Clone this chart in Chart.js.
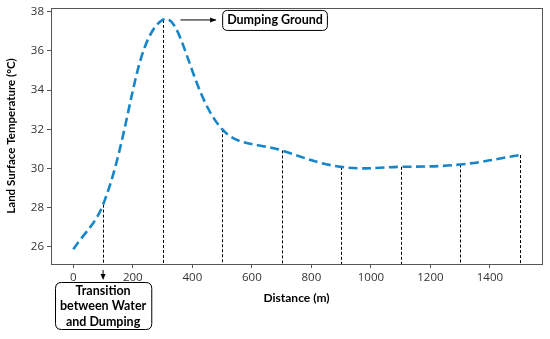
<!DOCTYPE html>
<html>
<head>
<meta charset="utf-8">
<script src="https://cdn.jsdelivr.net/npm/chart.js@4.4.1/dist/chart.umd.min.js"></script>
<style>
    html, body { margin: 0; padding: 0; background: #fff; }
    #wrap { width: 550px; height: 339px; }
</style>
</head>
<body>
<div id="wrap"><canvas id="lstChart" width="550" height="339"></canvas></div>
<script>
// distance along the transect (m) and land surface temperature (°C)
const distance = [0, 100, 300, 500, 700, 900, 1100, 1300, 1500];
const lst = [25.87, 28.15, 37.58, 32.0, 30.92, 30.08, 30.08, 30.2, 30.68];

// points that get a dotted drop line down to the x axis
const dropDistance = [100, 300, 500, 700, 900, 1100, 1300, 1500];
const dropLst = [28.15, 37.58, 32.0, 30.92, 30.08, 30.08, 30.2, 30.68];

const xTicks = [0, 200, 400, 600, 800, 1000, 1200, 1400];
const yTicks = [26, 28, 30, 32, 34, 36, 38];

const peakLabel = "Dumping Ground";
const transitionLabel = ["Transition", "between Water", "and Dumping"];

const lineColor = "#1786c9";
const axisColor = "#555555";
const tickColor = "#333333";

function roundRect(ctx, x, y, w, h, r) {
    ctx.beginPath();
    ctx.moveTo(x + r, y);
    ctx.lineTo(x + w - r, y);
    ctx.quadraticCurveTo(x + w, y, x + w, y + r);
    ctx.lineTo(x + w, y + h - r);
    ctx.quadraticCurveTo(x + w, y + h, x + w - r, y + h);
    ctx.lineTo(x + r, y + h);
    ctx.quadraticCurveTo(x, y + h, x, y + h - r);
    ctx.lineTo(x, y + r);
    ctx.quadraticCurveTo(x, y, x + r, y);
    ctx.closePath();
}

function arrowHead(ctx, x, y, dir) {
    // dir: "right" or "down"
    ctx.beginPath();
    if (dir === "right") {
        ctx.moveTo(x, y);
        ctx.lineTo(x - 6, y - 2.5);
        ctx.lineTo(x - 6, y + 2.5);
    } else {
        ctx.moveTo(x, y);
        ctx.lineTo(x - 2.5, y - 6);
        ctx.lineTo(x + 2.5, y - 6);
    }
    ctx.closePath();
    ctx.fill();
}

const dropLinesPlugin = {
    id: "dropLines",
    beforeDatasetsDraw(chart) {
        const { ctx, chartArea, scales } = chart;
        ctx.save();
        ctx.strokeStyle = "#000";
        ctx.lineWidth = 1;
        ctx.setLineDash([3, 2]);
        dropDistance.forEach((d, i) => {
            const px = Math.round(scales.x.getPixelForValue(d)) + 0.5;
            const py = scales.y.getPixelForValue(dropLst[i]);
            ctx.beginPath();
            ctx.moveTo(px, py);
            ctx.lineTo(px, chartArea.bottom);
            ctx.stroke();
        });
        ctx.restore();
    }
};

const framePlugin = {
    id: "frame",
    afterDraw(chart) {
        const { ctx, chartArea, scales } = chart;
        ctx.save();
        ctx.strokeStyle = axisColor;
        ctx.lineWidth = 1;
        ctx.strokeRect(Math.round(chartArea.left) + 0.5, Math.round(chartArea.top) + 0.5,
            Math.round(chartArea.right - chartArea.left), Math.round(chartArea.bottom - chartArea.top));

        // peak annotation: arrow and boxed label
        const peakIdx = lst.indexOf(Math.max(...lst));
        const ay = scales.y.getPixelForValue(lst[peakIdx]);
        const ax0 = scales.x.getPixelForValue(distance[peakIdx] + 60);
        const ax1 = scales.x.getPixelForValue(distance[peakIdx] + 180);
        ctx.strokeStyle = "#000";
        ctx.fillStyle = "#000";
        ctx.beginPath();
        ctx.moveTo(ax0, ay);
        ctx.lineTo(ax1, ay);
        ctx.stroke();
        arrowHead(ctx, ax1, ay, "right");

        ctx.font = "bold 12.5px Lato";
        ctx.textBaseline = "middle";
        ctx.textAlign = "center";
        const tw = ctx.measureText(peakLabel).width;
        const bx = ax1 + 6;
        const bw = tw + 9;
        ctx.fillStyle = "#fff";
        roundRect(ctx, bx + 0.5, ay - 9.5, bw, 20, 5);
        ctx.fill();
        ctx.stroke();
        ctx.fillStyle = "#000";
        ctx.fillText(peakLabel, bx + bw / 2 + 0.5, ay + 0.5);

        // transition annotation below the x axis
        const tx = scales.x.getPixelForValue(dropDistance[0]);
        const ty0 = chartArea.bottom + 6;
        ctx.beginPath();
        ctx.moveTo(tx, ty0);
        ctx.lineTo(tx, ty0 + 8);
        ctx.stroke();
        arrowHead(ctx, tx, ty0 + 10, "down");

        ctx.font = "bold 12.5px Lato";
        const widths = transitionLabel.map(t => ctx.measureText(t).width);
        const boxW = Math.max(...widths) + 10;
        const boxTop = 282.5;
        const lh = 15.5;
        roundRect(ctx, Math.round(tx - boxW / 2) + 0.5, boxTop, boxW, 47, 6);
        ctx.fillStyle = "#fff";
        ctx.fill();
        ctx.stroke();
        ctx.fillStyle = "#000";
        transitionLabel.forEach((t, i) => {
            ctx.fillText(t, tx, boxTop + 8 + i * lh);
        });
        ctx.restore();
    }
};

const ctx = document.getElementById("lstChart").getContext("2d");
const lstChart = new Chart(ctx, {
    type: "line",
    data: {
        datasets: [{
            label: "LST",
            data: distance.map((d, i) => ({ x: d, y: lst[i] })),
            borderColor: lineColor,
            borderWidth: 2.6,
            borderDash: [9, 4.5],
            borderCapStyle: "butt",
            tension: 0.4,
            fill: false,
            pointRadius: 0
        }]
    },
    options: {
        responsive: false,
        animation: false,
        devicePixelRatio: 1,
        layout: { padding: { top: 8, right: 8, bottom: 0, left: 0 } },
        plugins: {
            legend: { display: false },
            title: { display: false },
            tooltip: { enabled: false }
        },
        scales: {
            x: {
                type: "linear",
                min: -75,
                max: 1575,
                afterBuildTicks: scale => { scale.ticks = xTicks.map(v => ({ value: v })); },
                afterFit: scale => {
                    scale.height = 75;
                    scale.paddingLeft = 0;
                    scale.paddingRight = 0;
                },
                grid: { display: true, drawOnChartArea: false, drawTicks: true, tickLength: 4, color: axisColor },
                border: { display: true, color: axisColor },
                ticks: {
                    color: tickColor, padding: 3, maxRotation: 0,
                    font: { family: "Open Sans", size: 11.5 },
                    callback: v => String(v)
                },
                title: {
                    display: true,
                    text: "Distance (m)",
                    color: "#000",
                    font: { family: "Lato", size: 12, weight: "bold" },
                    padding: { top: 0, bottom: 34 }
                }
            },
            y: {
                min: 25.12,
                max: 38.19,
                afterBuildTicks: scale => { scale.ticks = yTicks.map(v => ({ value: v })); },
                afterFit: scale => {
                    scale.width = 51;
                    scale.paddingTop = 0;
                    scale.paddingBottom = 0;
                },
                grid: { display: true, drawOnChartArea: false, drawTicks: true, tickLength: 4, color: axisColor },
                border: { display: true, color: axisColor },
                ticks: {
                    color: tickColor, padding: 3,
                    font: { family: "Open Sans", size: 11.5 },
                    callback: v => String(v)
                },
                title: {
                    display: true,
                    text: "Land Surface Temperature (°C)",
                    color: "#000",
                    font: { family: "Lato", size: 11.5, weight: "bold" },
                    padding: { top: 4, bottom: 0 }
                }
            }
        }
    },
    plugins: [dropLinesPlugin, framePlugin]
});
</script>
</body>
</html>
